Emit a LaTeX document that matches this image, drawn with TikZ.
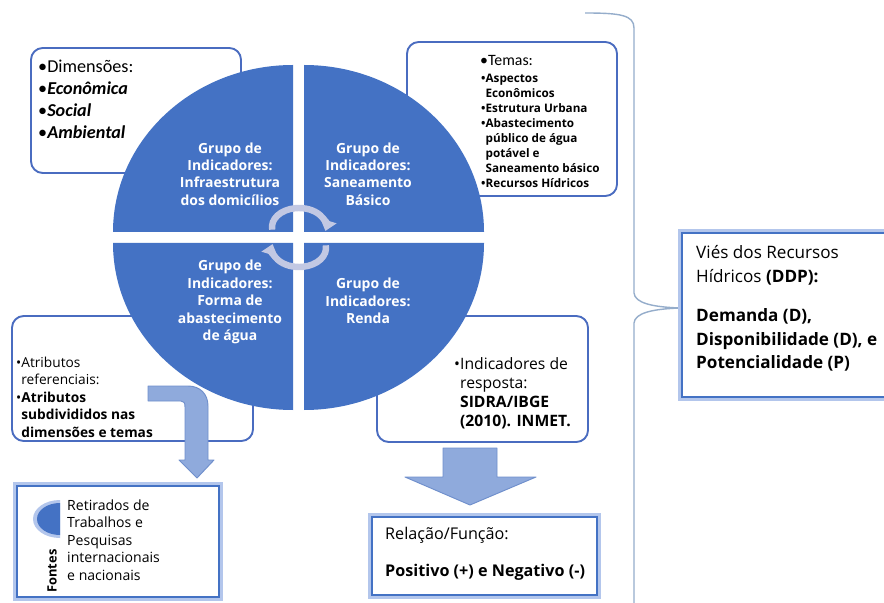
\documentclass[tikz,border=0pt]{standalone}
\usepackage{fontspec}
\setmainfont{Open Sans}
\newfontfamily\calibri{Carlito}
\usetikzlibrary{arrows.meta}
\definecolor{azul}{HTML}{4472C4}
\definecolor{borda}{HTML}{4A6CC0}
\definecolor{brilho}{HTML}{B3C6EC}
\definecolor{seta}{HTML}{8FAADC}
\definecolor{setaborda}{HTML}{6F8FCC}
\definecolor{giro}{HTML}{C2C8E3}
\definecolor{chave}{HTML}{95ADCB}

\begin{document}
\begin{tikzpicture}[x=0.3mm, y=-0.3mm,
    caixa/.style={draw=borda, line width=1.6pt, rounded corners=10pt, fill=white},
    caixabrilho/.style={draw=azul, line width=2.2pt, fill=white,
        preaction={draw=brilho, line width=6pt}},
    rotulo/.style={text=white, align=center,
        font=\fontsize{11.9}{14.9}\selectfont\bfseries},
    giro/.style={draw=giro, line width=5.5pt,
        -{Triangle[width=14pt, length=9pt]}},
    bloco/.style={fill=seta, draw=setaborda, line width=0.8pt, line join=round}]
    \useasboundingbox (0,0) rectangle (884,603);
    \fill[white] (0,0) rectangle (884,603);

    % Caixas arredondadas atrás do círculo
    \foreach \xa/\ya/\xb/\yb in {31/48/241/173, 407/42/617/196,
                                 12/316/253/441, 377/316/588/442}
        \draw[caixa] (\xa,\ya) rectangle (\xb,\yb);

    % Quadrantes do círculo (elipse rx=180, ry=167, separação de 11)
    \fill[azul] (293,232) -- ++(-180,0)
        arc[start angle=180, end angle=270, x radius=180, y radius=167] -- cycle;
    \fill[azul] (304,232) -- ++(0,-167)
        arc[start angle=270, end angle=360, x radius=180, y radius=167] -- cycle;
    \fill[azul] (304,243) -- ++(180,0)
        arc[start angle=0, end angle=90, x radius=180, y radius=167] -- cycle;
    \fill[azul] (293,243) -- ++(0,167)
        arc[start angle=90, end angle=180, x radius=180, y radius=167] -- cycle;

    % Rótulos dos grupos
    \node[rotulo] (infra) at (230,174)
        {Grupo de\\Indicadores:\\Infraestrutura\\dos domicílios};
    \node[rotulo] (sanea) at (368,174)
        {Grupo de\\Indicadores:\\Saneamento\\Básico};
    \node[rotulo] (forma) at (230,302)
        {Grupo de\\Indicadores:\\Forma de\\abastecimento\\de água};
    \node[rotulo] (renda) at (368,301)
        {Grupo de\\Indicadores:\\Renda};

    % Setas circulares no centro
    \draw[giro] (299,227) ++(172:27 and 19)
        arc[start angle=172, end angle=372, x radius=27, y radius=19];
    \draw[giro] (299,248) ++(-8:27 and 19)
        arc[start angle=-8, end angle=192, x radius=27, y radius=19];

    % Dimensões
    \node[anchor=west, align=left, inner sep=0,
          font=\calibri\fontsize{15.5}{18.8}\selectfont] (dim) at (38,99)
        {•Dimensões:\\•\textbf{\textit{Econômica}}\\
         •\textbf{\textit{Social}}\\•\textbf{\textit{Ambiental}}};

    % Temas
    \node[anchor=west, inner sep=0,
          font=\calibri\fontsize{13.5}{16}\selectfont] (temas) at (480,60)
        {•Temas:};
    \node[anchor=west, align=left, inner sep=0,
          font=\fontsize{10}{12.8}\selectfont\bfseries] (itens) at (481,131)
        {•Aspectos\\\phantom{•}Econômicos\\•Estrutura Urbana\\
         •Abastecimento\\\phantom{•}público de água\\\phantom{•}potável e\\
         \phantom{•}Saneamento básico\\•Recursos Hídricos};

    % Atributos
    \node[anchor=west, align=left, inner sep=0,
          font=\fontsize{11.7}{14.9}\selectfont] (atrib) at (16,397)
        {•Atributos\\\phantom{•}referenciais:\\•\textbf{Atributos}\\
         \phantom{•}\textbf{subdivididos nas}\\\phantom{•}\textbf{dimensões e temas}};

    % Seta dobrada para as fontes
    \filldraw[bloco] (148,386) -- (188,386)
        .. controls (200,386) and (208,394) .. (208,406)
        -- (208,460) -- (214,460) -- (197,478) -- (179,460) -- (185,460)
        -- (185,407) .. controls (185,403) and (184,401) .. (181,401)
        -- (148,401) -- cycle;

    % Fontes
    \draw[caixabrilho] (17,486) rectangle (219,597);
    \fill[brilho] (60,500)
        arc[start angle=270, end angle=90, x radius=27, y radius=19] -- cycle;
    \fill[azul] (60,503)
        arc[start angle=270, end angle=90, x radius=23, y radius=16] -- cycle;
    \node[rotate=90, inner sep=0, font=\fontsize{11}{13}\selectfont\bfseries]
        (fontes) at (52,571) {Fontes};
    \node[anchor=west, align=left, inner sep=0,
          font=\fontsize{12}{14.9}\selectfont] (retir) at (67,540)
        {Retirados de\\Trabalhos e\\Pesquisas\\internacionais\\e nacionais};

    % Indicadores de resposta
    \node[anchor=west, align=left, inner sep=0,
          font=\fontsize{13.4}{16.2}\selectfont] (indic) at (454,393)
        {•Indicadores de\\\phantom{•}resposta:\\\phantom{•}\textbf{SIDRA/IBGE}\\
         \phantom{•}\textbf{(2010). INMET.}};

    % Seta para baixo
    \filldraw[bloco] (443,448) -- (497,448) -- (497,477) -- (536,477)
        -- (470,505) -- (405,477) -- (443,477) -- cycle;

    % Relação/Função
    \draw[caixabrilho] (372,517) rectangle (597,595);
    \node[anchor=west, inner sep=0, font=\fontsize{13.8}{16}\selectfont]
        (rel) at (385,535) {Relação/Função:};
    \node[anchor=west, inner sep=0, font=\fontsize{13.8}{16}\selectfont\bfseries]
        (sinal) at (385,572) {Positivo (+) e Negativo (-)};

    % Chave
    \draw[chave, line width=1.2pt] (585,13)
        .. controls (620,13) and (634,15) .. (634,28) -- (634,293)
        .. controls (635,303) and (652,307) .. (680,308)
        .. controls (652,309) and (635,313) .. (634,323) -- (634,610);

    % Viés dos recursos hídricos
    \draw[caixabrilho] (682,233) rectangle (900,397);
    \node[anchor=west, align=left, inner sep=0,
          font=\fontsize{14.6}{20}\selectfont] (vies) at (696,265.5)
        {Viés dos Recursos\\Hídricos \textbf{(DDP):}};
    \node[anchor=west, align=left, inner sep=0,
          font=\fontsize{14.6}{20}\selectfont\bfseries] (ddp) at (696,340)
        {Demanda (D),\\Disponibilidade (D), e\\Potencialidade (P)};
\end{tikzpicture}
\end{document}
